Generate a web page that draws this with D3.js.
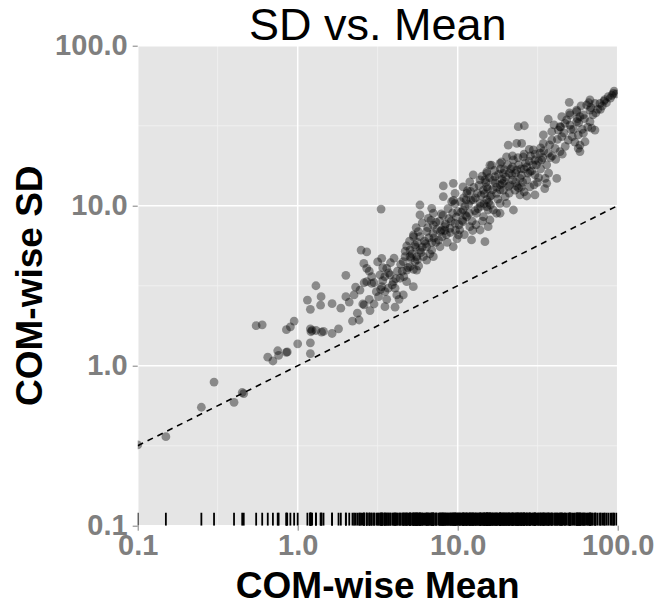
<!DOCTYPE html>
<html lang="en">
<head>
<meta charset="UTF-8">
<title>SD vs. Mean</title>
<style>
  body { margin: 0; background: #fff; }
  text { font-family: "Liberation Sans", Arial, Helvetica, sans-serif; }
</style>
</head>
<body>
<script src="https://cdn.jsdelivr.net/npm/d3@7"></script>
<script>
var width = 660, height = 605;
var margin = {left: 137.7, right: 42.3, top: 45.7, bottom: 79.3};
var pw = width - margin.left - margin.right;
var ph = height - margin.top - margin.bottom;

// ticks
var tickVals = [0.1, 1, 10, 100];
var tickLabels = ["0.1", "1.0", "10.0", "100.0"];
var minorVals = [0.316, 3.16, 31.6];

// reference line SD = sqrt(mean)
var refMean = [0.1, 100];
var refSD = [0.316, 10];

// COM-wise mean / SD, grouped by area
var lowMean = [0.10,0.15,0.25,0.30,0.40,0.45,0.46,0.55,0.60,0.65,
  0.70,0.75,0.76,0.85,0.86,0.85,0.90,0.95,1.00,1.15,
  1.39,1.20,1.20,1.21,1.41,1.45,1.30,1.20,1.20,1.23,
  1.64,1.30,1.40,1.64,1.86,2.00,2.1,2.2,2.3,2.6,2.0,1.8];
var lowSD = [0.32,0.36,0.55,0.79,0.59,0.68,0.67,1.78,1.80,1.13,
  1.07,1.24,1.16,1.21,1.22,1.68,1.75,1.90,1.37,2.57,
  2.39,2.25,1.70,1.63,1.62,1.64,1.66,1.39,1.19,1.66,
  1.59,3.16,2.70,2.44,2.29,3.67,2.5,1.9,3.1,3.3,2.7,1.7];

var midMean = [2.49,2.70,2.59,2.70,3.16,3.35,2.25,2.45,2.36,2.42,
  2.55,2.83,3.00,2.70,2.90,3.27,3.60,3.78,3.96,3.35,
  3.51,3.68,4.06,4.16,3.51,4.06,4.57,4.36,4.80,5.28,
  4.57,5.03,5.41,5.28,5.41,4.80,5.03,5.54,3.32,
  3.1,3.4,3.7,3.9,4.2,4.4,4.6,4.9,5.1,5.3,
  5.6,5.9,6.1,6.3,4.7,4.0,3.3,2.8,2.6,2.9,
  3.6,4.3,5.7,6.7,7.3,7.8,8.3,5.0,5.5,6.0];
var midSD = [5.28,5.14,4.36,4.06,4.45,4.69,2.77,2.97,2.13,1.93,
  2.43,2.21,2.43,3.35,3.27,3.69,4.06,3.69,3.35,3.12,
  2.90,3.05,3.05,2.77,2.34,2.32,2.77,3.52,3.35,3.12,
  4.47,4.80,4.47,6.56,5.68,3.96,4.16,3.96,9.53,
  2.9,3.4,3.8,3.2,3.9,4.3,3.6,4.1,4.7,4.0,
  4.6,5.1,4.8,5.8,5.2,4.7,3.0,2.6,2.4,3.6,
  2.6,2.6,4.2,5.0,5.9,6.9,7.0,6.0,7.3,7.8];

var coreMean = [8.13,9.39,8.13,9.17,9.62,5.81,5.81,6.88,7.04,6.55,
  7.04,7.94,5.30,5.67,5.45,5.03,4.69,5.54,5.81,6.40,
  6.88,7.75,7.04,6.40,9.39,8.95,9.62,10.1,10.3,10.8,
  11.4,11.9,10.8,12.2,14.8,13.8,15.5,10.8,11.4,11.9,
  12.5,13.8,15.2,15.9,17.5,18.4,19.3,12.5,13.8,15.2,
  16.7,13.1,14.5,15.9,18.4,15.9,18.4,19.3,15.2,20.2,
  6.2,6.6,7.0,7.3,7.6,8.0,8.4,8.8,9.0,9.3,
  9.8,10.5,11.0,11.7,12.3,12.9,13.4,14.0,14.6,16.5,
  17.2,18.9,10.2,11.2,8.6,7.9,6.9,9.6,10.9,12.0,
  13.0,14.3,16.0,17.8,19.5,21.0,23.5,26.0,31.5,36.0];
var coreSD = [13.3,13.8,11.4,10.6,11.95,10.1,8.75,9.63,8.97,8.34,
  7.57,7.05,6.40,6.88,5.50,5.28,4.80,4.80,5.28,5.54,
  5.28,5.54,4.80,4.57,5.54,7.22,7.76,6.56,7.05,7.94,
  8.53,7.39,9.40,6.11,5.96,7.05,7.39,13.1,11.95,14.1,
  15.6,14.5,13.1,11.4,11.95,13.5,12.5,10.9,10.35,9.86,
  9.40,8.97,8.53,8.14,8.97,17.9,18.4,15.9,15.9,20.2,
  6.0,6.3,6.7,7.9,6.1,6.4,7.7,8.3,6.8,9.0,
  8.5,9.1,6.6,10.2,8.0,11.2,9.6,11.6,10.3,12.6,
  13.9,14.6,7.6,8.7,5.9,8.9,5.9,10.3,11.2,12.3,
  7.6,8.0,10.1,11.0,14.2,12.0,13.2,12.2,14.0,13.8];

var highMean = [49.8,67.1,72.1,77.5,87.3,93.9,44.7,48.0,50.3,55.4,
  58.1,67.1,64.0,46.8,50.3,55.4,36.8,23.9,26.1,67.1,
  68.8,72.1,56.7,61.0,62.5,58.1,58.1,56.7,34.3,38.7,
  42.6,44.7,49.1,34.3,38.7,40.6,43.6,36.8,20.7,23.4,
  25.1,29.7,32.7,30.4,33.5,18.8,22.3,25.7,27.0,23.4,
  21.8,24.5,28.3,30.4,41.6,35.2,15.2,16.3,14.8,17.1,
  21.2,22.8,25.1,28.3,18.4,19.8,18.4,20.2,24.5,22.3,
  30.4,14.5,15.2,15.5,17.5,43.6,55.4,
  21,22,23,24,25,26,27,28,29,31,
  32,33,34,36,37,38,26,28,30,35,
  24,22,27,33,39,41,45,47,52,54,
  60,65,70,75,80,85,90,62,44,40,
  95,98,83,78,73,66,59,57,53,50];
var highSD = [44.3,45.8,43.6,43.6,48.0,50.4,36.0,34.4,36.9,38.7,
  36.0,39.6,42.6,32.7,31.9,33.5,34.7,31.2,31.6,33.5,
  30.5,29.7,27.7,28.4,25.1,23.9,21.8,22.8,27.7,29.0,
  29.7,27.0,25.7,24.5,25.7,22.8,21.8,21.3,23.9,24.5,
  24.5,22.3,21.3,19.3,19.3,18.8,19.3,20.2,17.5,16.7,
  15.6,14.8,16.3,15.6,14.8,14.8,16.3,17.9,14.5,15.2,
  13.5,12.5,13.1,13.1,12.6,11.4,10.35,10.35,11.7,9.40,
  11.7,12.5,10.9,9.40,8.97,31.2,39.6,
  16,17.5,14,18,15.5,17,14.5,19,16.5,18,
  15,17,20,18,16,20,21,22.5,13.5,12.8,
  12.9,20.5,11.5,23,20.5,19.5,21,23.5,27,25,
  30,31,37,40,42,44,47,35,31,32,
  52,50,46,40,38,44,42,33,30,38];

// points hidden in the dense band
var denseMean = [2.8,3.0,3.2,3.4,3.5,3.8,4.1,4.5,4.8,5.2,
  5.6,5.8,6.0,6.4,6.5,6.8,7.1,7.4,7.7,8.1,
  8.3,8.7,9.1,9.4,9.7,10.0,10.4,10.7,11.1,11.5,
  11.8,12.1,12.6,12.8,13.3,13.6,13.9,14.2,14.7,15.0,
  15.4,15.8,16.2,16.6,17.0,17.5,18.0,18.5,19.0,19.6,
  20.0,20.5,21.5,22.0,23.0,23.8,24.8,25.5,26.5,27.5,
  28.5,29.5,30.5,32.0,34.5,37.5,42.0,46.0,51.0,56.0,
  61.0,68.0,82.0,92.0,9.9,12.4,8.5,11.3,15.6,20.8];
var denseSD = [3.9,3.3,2.7,4.1,3.6,4.4,3.5,3.9,5.6,5.0,
  5.9,6.4,5.5,6.9,7.3,8.1,6.3,7.1,8.0,8.7,
  7.4,9.6,8.0,10.8,7.0,9.2,10.6,8.1,9.9,12.4,
  9.0,10.8,13.0,9.3,12.0,13.4,9.9,15.3,11.9,14.0,
  12.8,15.0,11.6,14.4,16.6,13.0,15.7,17.0,13.8,16.8,
  15.1,18.0,17.0,14.5,16.0,20.0,17.0,14.0,18.5,16.0,
  20.5,18.0,21.0,19.0,22.0,24.0,26.0,28.5,30.0,35.0,
  37.0,41.0,45.0,49.0,6.2,7.0,6.6,10.9,10.5,13.2];

var means = lowMean.concat(midMean, coreMean, highMean, denseMean);
var sds = lowSD.concat(midSD, coreSD, highSD, denseSD);
var points = means.map(function(m, i) { return {m: m, s: sds[i]}; });

var svg = d3.select("body").append("svg")
  .attr("width", width).attr("height", height);
svg.append("rect").attr("width", width).attr("height", height).attr("fill", "#fff");

var g = svg.append("g").attr("transform", "translate(" + margin.left + "," + margin.top + ")");

var x = d3.scaleLog().domain([0.1, 100]).range([0, pw]);
var y = d3.scaleLog().domain([0.1, 100]).range([ph, 0]);

svg.append("defs").append("clipPath").attr("id", "clip")
  .append("rect").attr("width", pw).attr("height", ph);

// panel
g.append("rect").attr("width", pw).attr("height", ph).attr("fill", "#E5E5E5");

// minor grid
g.selectAll(".mx").data(minorVals).enter().append("line")
  .attr("x1", d => x(d)).attr("x2", d => x(d)).attr("y1", 0).attr("y2", ph)
  .attr("stroke", "#F2F2F2").attr("stroke-width", 0.8);
g.selectAll(".my").data(minorVals).enter().append("line")
  .attr("y1", d => y(d)).attr("y2", d => y(d)).attr("x1", 0).attr("x2", pw)
  .attr("stroke", "#F2F2F2").attr("stroke-width", 0.8);
// major grid
g.selectAll(".gx").data(tickVals).enter().append("line")
  .attr("x1", d => x(d)).attr("x2", d => x(d)).attr("y1", 0).attr("y2", ph)
  .attr("stroke", "#fff").attr("stroke-width", 1.5);
g.selectAll(".gy").data(tickVals).enter().append("line")
  .attr("y1", d => y(d)).attr("y2", d => y(d)).attr("x1", 0).attr("x2", pw)
  .attr("stroke", "#fff").attr("stroke-width", 1.5);

var plot = g.append("g").attr("clip-path", "url(#clip)");

// rug
plot.selectAll(".rug").data(points).enter().append("line")
  .attr("x1", d => x(d.m)).attr("x2", d => x(d.m))
  .attr("y1", ph).attr("y2", ph - 13)
  .attr("stroke", "#000").attr("stroke-width", 1.8);

// points
plot.selectAll("circle").data(points).enter().append("circle")
  .attr("cx", d => x(d.m)).attr("cy", d => y(d.s)).attr("r", 4.4)
  .attr("fill", "#000").attr("fill-opacity", 0.4);

// dashed reference line
plot.append("path")
  .datum(refMean.map((m, i) => [m, refSD[i]]))
  .attr("d", d3.line().x(d => x(d[0])).y(d => y(d[1])))
  .attr("fill", "none").attr("stroke", "#000").attr("stroke-width", 1.6)
  .attr("stroke-dasharray", "6,5");

// axes
var xAxis = d3.axisBottom(x).tickValues(tickVals).tickFormat((d, i) => tickLabels[i])
  .tickSize(5).tickPadding(4);
var yAxis = d3.axisLeft(y).tickValues(tickVals).tickFormat((d, i) => tickLabels[i])
  .tickSize(5).tickPadding(5);

var gx = g.append("g").attr("transform", "translate(0," + ph + ")").call(xAxis);
var gy = g.append("g").call(yAxis);
[gx, gy].forEach(function(a) {
  a.select(".domain").remove();
  a.selectAll(".tick line").attr("stroke", "#7F7F7F").attr("stroke-width", 1);
  a.selectAll(".tick text").attr("fill", "#7F7F7F").style("font-size", "29px")
    .style("font-weight", "bold").style("font-family", '"Liberation Sans", Arial, sans-serif');
});

// titles
svg.append("text").attr("x", margin.left + pw / 2).attr("y", 40)
  .attr("text-anchor", "middle").style("font-size", "45px").attr("fill", "#000")
  .text("SD vs. Mean");
svg.append("text").attr("x", margin.left + pw / 2).attr("y", 598)
  .attr("text-anchor", "middle").style("font-size", "37px").style("font-weight", "bold")
  .text("COM-wise Mean");
svg.append("text").attr("transform", "translate(42," + (margin.top + ph / 2) + ") rotate(-90)")
  .attr("text-anchor", "middle").style("font-size", "37px").style("font-weight", "bold")
  .text("COM-wise SD");
</script>
</body>
</html>
